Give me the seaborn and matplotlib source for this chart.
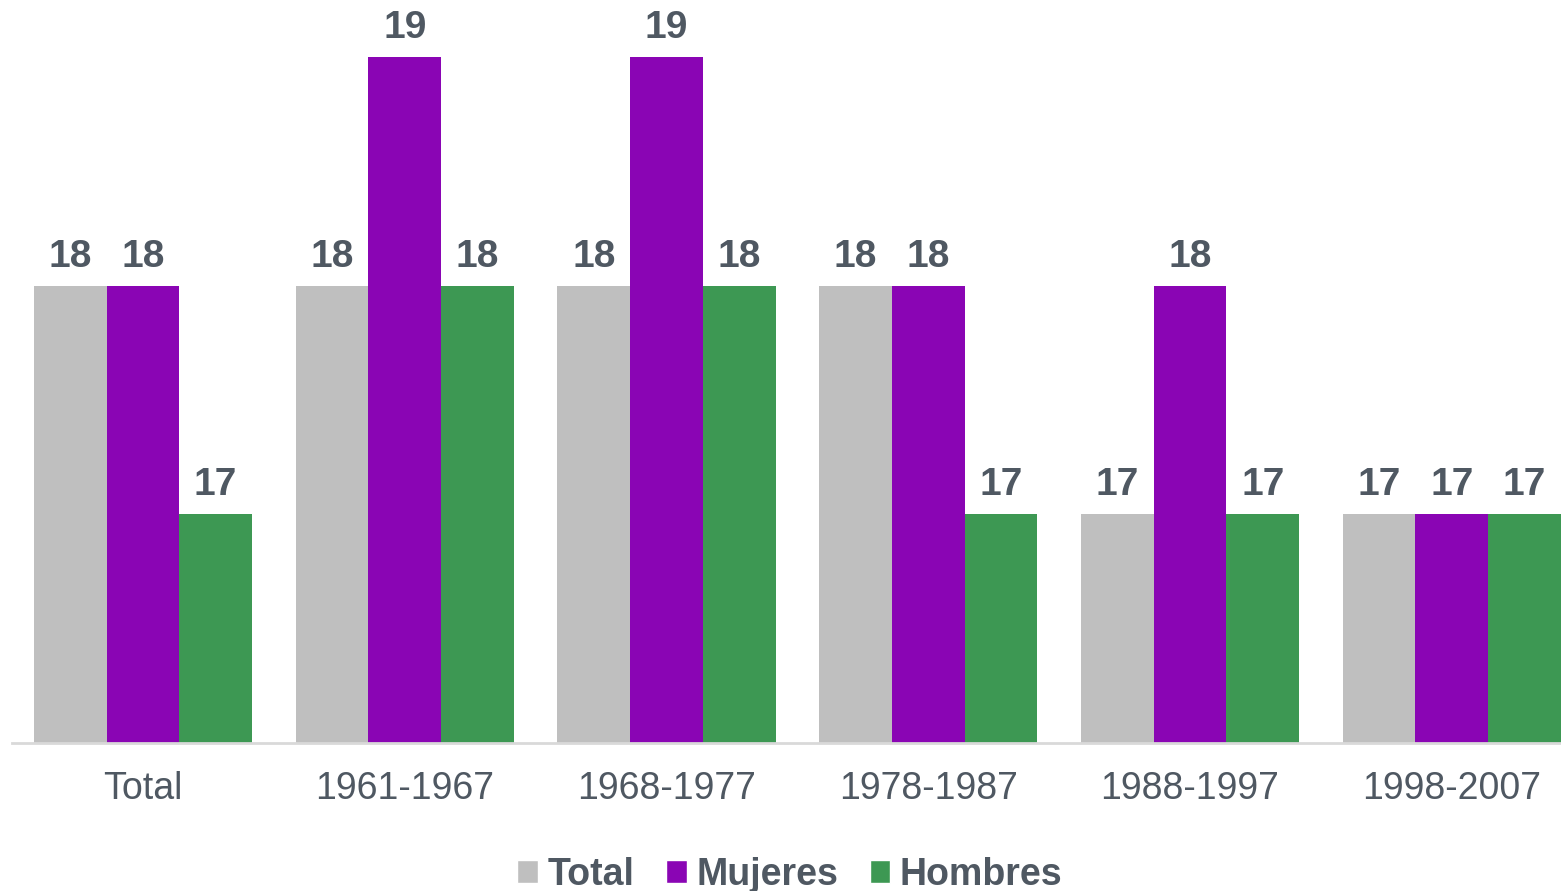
import pandas as pd
import matplotlib.pyplot as plt
import seaborn as sns
from matplotlib.patches import Patch

# Datos
categorias = ['Total', '1961-1967', '1968-1977', '1978-1987', '1988-1997', '1998-2007']
total = [18, 18, 18, 18, 17, 17]
mujeres = [18, 19, 19, 18, 18, 17]
hombres = [17, 18, 18, 17, 17, 17]
series = ['Total', 'Mujeres', 'Hombres']
colores = ['#BFBFBF', '#8A05B4', '#3D9853']
texto = '#4F5862'

df = pd.DataFrame({'categoria': categorias * 3,
                   'serie': ['Total'] * 6 + ['Mujeres'] * 6 + ['Hombres'] * 6,
                   'valor': total + mujeres + hombres})

sns.set_style('white')
plt.rcParams['font.family'] = ['Liberation Sans', 'DejaVu Sans']

fig = plt.figure(figsize=(15.61, 8.91), dpi=100)
ax = fig.add_axes([0.0077, 0.1661, 0.9923, 0.8339])

sns.barplot(data=df, x='categoria', y='valor', hue='serie', order=categorias,
            hue_order=series, palette=colores, width=0.833, gap=0,
            saturation=1, linewidth=0, legend=False, ax=ax)

for c in ax.containers:
    ax.bar_label(c, fmt='%d', padding=8, fontsize=28, fontweight='bold', color=texto)

ax.set_ylim(16, 19.25)
ax.set_xlim(-0.5, 5.417)
ax.set_xlabel('')
ax.set_ylabel('')
ax.set_yticks([])
ax.tick_params(axis='x', length=0, pad=20, labelsize=27, labelcolor=texto)
for s in ['top', 'right', 'left']:
    ax.spines[s].set_visible(False)
ax.spines['bottom'].set_color('#D9D9D9')
ax.spines['bottom'].set_linewidth(2)

handles = [Patch(facecolor=col, label=s) for s, col in zip(series, colores)]
fig.legend(handles=handles, loc='center', bbox_to_anchor=(0.506, 0.018), ncol=3,
           frameon=False, handlelength=0.55, handleheight=0.55, handletextpad=0.25,
           columnspacing=0.85, prop={'size': 27, 'weight': 'bold'}, labelcolor=texto)

fig.savefig('out.png', dpi=100)
